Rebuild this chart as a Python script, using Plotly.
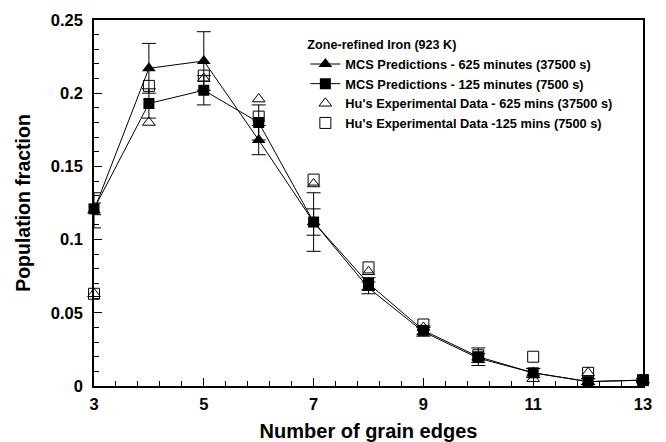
import plotly.graph_objects as go

# Number of grain edges per grain
edges = [3, 4, 5, 6, 7, 8, 9, 10, 11, 12, 13]

# MCS predicted population fractions
mcs_625 = [0.120, 0.217, 0.222, 0.168, 0.112, 0.067, 0.037, 0.019, 0.009, 0.003, 0.004]
mcs_125 = [0.121, 0.193, 0.202, 0.180, 0.112, 0.070, 0.038, 0.020, 0.009, 0.003, 0.004]
mcs_625_err = [0.012, 0.017, 0.020, 0.010, 0.009, 0.004, 0.003, 0.003, 0.003, 0.002, 0.001]
mcs_125_err = [0.004, 0.010, 0.010, 0.012, 0.020, 0.004, 0.003, 0.006, 0.003, 0.002, 0.001]

# Hu's experimental population fractions
hu_625 = [0.063, 0.180, 0.210, 0.196, 0.138, 0.078, 0.040, 0.020, 0.005, 0.009, 0.004]
hu_125 = [0.063, 0.205, 0.212, 0.184, 0.141, 0.081, 0.042, 0.021, 0.020, 0.009, 0.004]

FONT = "Arial, Liberation Sans, sans-serif"

fig = go.Figure()

fig.add_trace(go.Scatter(
    x=edges, y=hu_125, mode="markers", name="Hu's Experimental Data -125 mins (7500 s)",
    marker=dict(symbol="square-open", size=11, color="black", line=dict(width=1)),
    cliponaxis=False, legendrank=4,
))
fig.add_trace(go.Scatter(
    x=edges, y=hu_625, mode="markers", name="Hu's Experimental Data - 625 mins (37500 s)",
    marker=dict(symbol="triangle-up-open", size=11, color="black", line=dict(width=1)),
    cliponaxis=False, legendrank=3,
))
fig.add_trace(go.Scatter(
    x=edges, y=mcs_125, mode="lines+markers", name="MCS Predictions - 125 minutes (7500 s)",
    line=dict(color="black", width=1),
    marker=dict(symbol="square", size=11, color="black"),
    error_y=dict(type="data", array=mcs_125_err, color="black", thickness=1, width=7),
    cliponaxis=False, legendrank=2,
))
fig.add_trace(go.Scatter(
    x=edges, y=mcs_625, mode="lines+markers", name="MCS Predictions - 625 minutes (37500 s)",
    line=dict(color="black", width=1),
    marker=dict(symbol="triangle-up", size=12, color="black"),
    error_y=dict(type="data", array=mcs_625_err, color="black", thickness=1, width=7),
    cliponaxis=False, legendrank=1,
))

axis_common = dict(
    showline=True, linecolor="black", linewidth=1.5, mirror=True,
    ticks="inside", ticklen=8, tickwidth=1.2, tickcolor="black",
    showgrid=False, zeroline=False, automargin=False,
    tickfont=dict(family=FONT, size=16.5, color="black", weight="bold"),
)

fig.update_xaxes(
    range=[3, 13], tick0=3, dtick=2, ticklabelstandoff=2,
    minor=dict(ticks="inside", ticklen=5, tickcolor="black", tick0=3, dtick=0.4, showgrid=False),
    title=dict(text="Number of grain edges", font=dict(family=FONT, size=20, color="black", weight="bold"), standoff=12),
    **axis_common,
)
fig.update_yaxes(
    range=[0, 0.25], tick0=0, dtick=0.05, ticklabelstandoff=6,
    minor=dict(ticks="inside", ticklen=5, tickcolor="black", dtick=0.01, showgrid=False),
    title=dict(text="Population fraction", font=dict(family=FONT, size=19.5, color="black", weight="bold"), standoff=15),
    **axis_common,
)

fig.update_layout(
    width=666, height=442,
    margin=dict(l=94, r=23, t=20, b=56),
    paper_bgcolor="white", plot_bgcolor="white",
    font=dict(family=FONT, color="black"),
    legend=dict(
        title=dict(text="Zone-refined Iron (923 K)", font=dict(family=FONT, size=12.6, weight="bold")),
        font=dict(family=FONT, size=12.8, color="black", weight="bold"),
        x=0.385, y=0.965, xanchor="left", yanchor="top",
        bgcolor="rgba(255,255,255,0)", borderwidth=0,
        itemwidth=30, tracegroupgap=0,
    ),
)

fig.write_html("out.html")
